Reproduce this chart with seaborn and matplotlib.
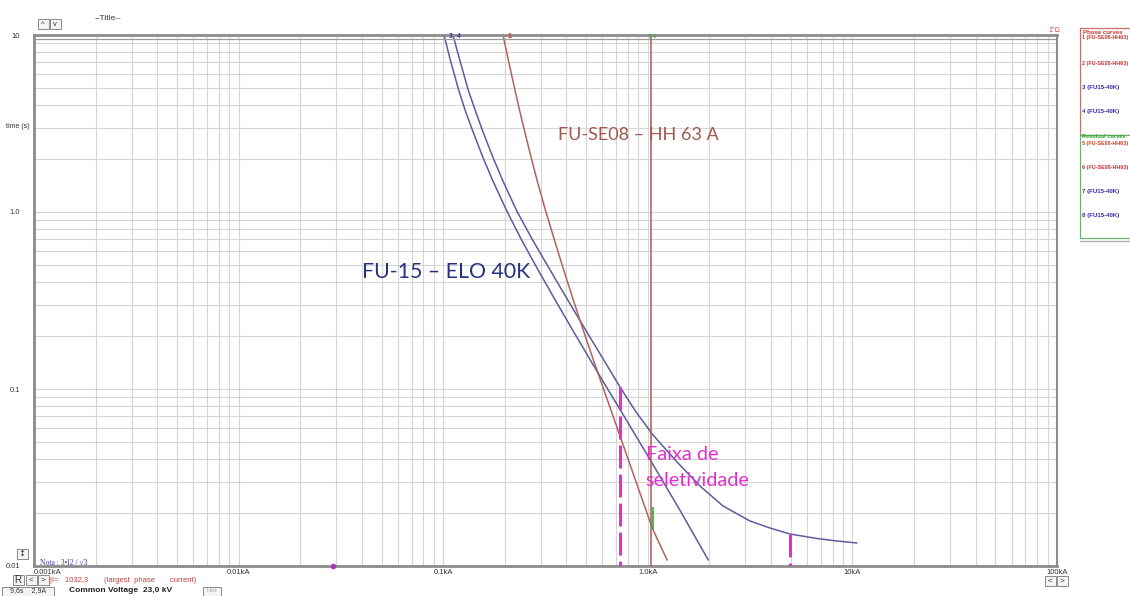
import numpy as np
import pandas as pd
import matplotlib
matplotlib.use("Agg")
import matplotlib.pyplot as plt
import matplotlib.ticker as mticker
from matplotlib.patches import Rectangle
import seaborn as sns

# ---- curve data (current in kA, time in s) ----
fu15_a_current = [0.1009, 0.1083, 0.1190, 0.1279, 0.1388, 0.1561, 0.1741, 0.2035, 0.2416,
                  0.2910, 0.3527, 0.4290, 0.5236, 0.6114, 0.7852, 1.0285, 1.4336, 1.9755]
fu15_a_time = [10.0, 7.225, 4.890, 3.771, 2.907, 2.045, 1.516, 1.026, 0.6948,
               0.4703, 0.3183, 0.2154, 0.1458, 0.1081, 0.06681, 0.03972, 0.02072, 0.01081]

fu15_b_current = [0.1116, 0.1205, 0.1325, 0.1432, 0.1552, 0.1747, 0.1949, 0.2277, 0.2735,
                  0.3331, 0.4062, 0.4967, 0.6094, 0.7312, 0.8756, 1.0603, 1.3892, 1.7995,
                  2.3311, 3.1587, 3.9560, 4.9547, 6.7145, 8.4091, 10.531]
fu15_b_time = [10.0, 7.225, 4.890, 3.771, 2.907, 2.045, 1.516, 1.026, 0.6948,
               0.4703, 0.3183, 0.2154, 0.1458, 0.1026, 0.07418, 0.05498, 0.03870, 0.02831,
               0.02183, 0.01795, 0.01639, 0.01516, 0.01430, 0.01384, 0.01349]

hh63_current = [0.1960, 0.2081, 0.2241, 0.2360, 0.2491, 0.2686, 0.2873, 0.3159, 0.3496,
                0.3881, 0.4324, 0.4834, 0.5421, 0.5985, 0.6868, 0.8132, 0.9048, 1.0068,
                1.0615, 1.1485, 1.2428]
hh63_time = [10.0, 7.225, 4.890, 3.771, 2.907, 2.045, 1.516, 1.026, 0.6948,
             0.4703, 0.3183, 0.2154, 0.1458, 0.1053, 0.06681, 0.03820, 0.02688, 0.01891,
             0.01598, 0.01314, 0.01081]

largest_phase_current = 1.0323           # kA
residual_mark_current = 1.06             # kA
residual_mark_time = [0.0160, 0.0215]    # s
selectivity_current = [0.7312, 4.9547]   # kA
selectivity_time_top = [0.1026, 0.01516] # s
note_mark_current = 0.0289               # kA

x_ticks = [0.001, 0.01, 0.1, 1.0, 10.0, 100.0]
x_tick_labels = ["0.001kA", "0.01kA", "0.1kA", "1.0kA", "10kA", "100kA"]
y_ticks = [0.01, 0.1, 1.0, 10.0]
y_tick_labels = ["0.01", "0.1", "1.0", "10"]

legend_phase = ["1 (FU-SE08-HH63)", "2 (FU-SE08-HH63)", "3 (FU15-40K)", "4 (FU15-40K)"]
legend_residual = ["5 (FU-SE08-HH63)", "6 (FU-SE08-HH63)", "7 (FU15-40K)", "8 (FU15-40K)"]

sns.set_theme(style="white")
plt.rcParams["font.family"] = ["Liberation Sans", "DejaVu Sans"]

W, H = 1130, 596
fig = plt.figure(figsize=(W / 100, H / 100), dpi=100)
ax = fig.add_axes([34 / W, 1 - 566 / H, (1057 - 34) / W, (566 - 35) / H])

BLUE = "#5c5c9e"
RED = "#b4625a"
MAG = "#e030d0"

df_a = pd.DataFrame({"I": fu15_a_current, "t": fu15_a_time})
df_b = pd.DataFrame({"I": fu15_b_current, "t": fu15_b_time})
df_r = pd.DataFrame({"I": hh63_current, "t": hh63_time})
sns.lineplot(data=df_a, x="I", y="t", ax=ax, color=BLUE, lw=1.1, sort=False, estimator=None)
sns.lineplot(data=df_b, x="I", y="t", ax=ax, color=BLUE, lw=1.1, sort=False, estimator=None)
sns.lineplot(data=df_r, x="I", y="t", ax=ax, color=RED, lw=1.1, sort=False, estimator=None)

ax.set_xscale("log")
ax.set_yscale("log")
ax.set_xlim(0.001, 100)
ax.set_ylim(0.01, 10)

# largest phase current marker
ax.vlines(largest_phase_current, 0.01, 10, color="#a85a58", lw=1.1, zorder=3)
ax.vlines(residual_mark_current, residual_mark_time[0], residual_mark_time[1], color="#40b040",
          lw=1.3, zorder=4)

# selectivity band limits
for xc, yt in zip(selectivity_current, selectivity_time_top):
    ax.plot([xc, xc], [yt, 0.01], color=MAG, lw=2.2, dashes=(7.5, 2.0), zorder=5,
            solid_capstyle="butt", dash_capstyle="butt")
ax.plot([note_mark_current], [0.01], marker="o", ms=3, color="#b030c0", clip_on=False, zorder=6)

# grid
ax.xaxis.set_minor_locator(mticker.LogLocator(base=10, subs=np.arange(2, 10)))
ax.yaxis.set_minor_locator(mticker.LogLocator(base=10, subs=np.arange(2, 10)))
ax.grid(True, which="both", color="#d6d6d6", lw=0.8)
ax.set_axisbelow(True)

ax.set_xticks(x_ticks)
ax.set_xticklabels(x_tick_labels)
ax.set_yticks(y_ticks)
ax.set_yticklabels(y_tick_labels)
ax.xaxis.set_minor_formatter(mticker.NullFormatter())
ax.yaxis.set_minor_formatter(mticker.NullFormatter())
ax.tick_params(which="both", length=0, labelsize=5.5, colors="#333333")
ax.tick_params(axis="x", pad=2)
ax.tick_params(axis="y", pad=10)
ax.get_xticklabels()[0].set_horizontalalignment("left")
ax.set_xlabel("")
ax.set_ylabel("")

for side in ["left", "right", "bottom", "top"]:
    ax.spines[side].set_color("#8c8c8c")
ax.spines["left"].set_linewidth(2.0)
ax.spines["bottom"].set_linewidth(2.0)
ax.spines["top"].set_linewidth(2.0)
ax.spines["right"].set_linewidth(1.5)
ax.axhline(9.55, color="#9a9a9a", lw=0.9, zorder=2)


def ftxt(x, y, s, **kw):
    fig.text(x / W, 1 - y / H, s, **kw)


# annotations
ann_font = ["Lato", "DejaVu Sans"]
ftxt(558, 135, "FU-SE08 – HH 63 A", fontsize=13, color="#a0584f", family=ann_font, va="center")
ftxt(362, 272, "FU-15 – ELO 40K", fontsize=15.3, color="#25307e", family=ann_font, va="center")
ftxt(646, 455, "Faixa de", fontsize=14.3, color=MAG, family=ann_font, va="center")
ftxt(645, 480, "seletividade", fontsize=14.3, color=MAG, family=ann_font, va="center")

# curve number tags at the top edge
ftxt(451, 37, "3", fontsize=5, color="#3030b0", weight="bold", ha="center", va="center")
ftxt(459, 37, "4", fontsize=5, color="#3030b0", weight="bold", ha="center", va="center")
ftxt(509, 37, "1", fontsize=5, color="#d03030", weight="bold", ha="center", va="center")
ftxt(653, 36, "5·6", fontsize=4, color="#40b040", weight="bold", ha="center", va="center")
ftxt(1054, 30, "1°Ω", fontsize=5, color="#d04040", ha="center", va="center")

# header and axis captions
ftxt(108, 19, "--Title--", fontsize=6, color="#333333", ha="center", va="center")
ftxt(18, 126, "time (s)", fontsize=5, color="#333333", ha="center", va="center")
ftxt(40, 563, "Nota : 3•I2 / √3", fontsize=5.5, color="#3a3aa0",
     family=["Liberation Serif", "DejaVu Serif"], va="center")


def button(x, y, s, w=11, h=10, **kw):
    fig.patches.append(Rectangle(((x - w / 2) / W, 1 - (y + h / 2) / H), w / W, h / H,
                                 transform=fig.transFigure, facecolor="#f4f4f4",
                                 edgecolor="#8a8a8a", lw=0.7))
    ftxt(x, y, s, ha="center", va="center", **kw)


button(43, 24, "^", fontsize=5.5, color="#333333")
button(55, 24, "v", fontsize=5.5, color="#333333")
button(22, 554, "↕", fontsize=6, color="#333333", family=["DejaVu Sans"])
button(18, 580, "R", fontsize=7, color="#333333")
button(31, 580, "<", fontsize=6, color="#333333")
button(43, 580, ">", fontsize=6, color="#333333")
button(1050, 581, "<", fontsize=6, color="#333333")
button(1062, 581, ">", fontsize=6, color="#333333")
button(28, 591, "9,6s    2,9A", w=52, h=9, fontsize=5, color="#333333")
button(212, 591, "Hist", w=18, h=9, fontsize=4.5, color="#aaaaaa")

ftxt(50, 580, "|I=   1032,3", fontsize=5.5, color="#c04040", va="center")
ftxt(104, 580, "(largest  phase       current)", fontsize=5.5, color="#c04040", va="center")
ftxt(69, 591, "Common Voltage  23,0 kV", fontsize=6, color="#222222", weight="bold", va="center")

# curve list panels
fig.patches.append(Rectangle((1080 / W, 1 - 135 / H), 60 / W, 107 / H, transform=fig.transFigure,
                             facecolor="white", edgecolor="#c87070", lw=0.9))
fig.patches.append(Rectangle((1080 / W, 1 - 238 / H), 60 / W, 103 / H, transform=fig.transFigure,
                             facecolor="white", edgecolor="#70b070", lw=0.9))
fig.add_artist(plt.Line2D([1080 / W, 1], [1 - 241 / H] * 2, color="#aaaaaa", lw=0.9,
                          transform=fig.transFigure))

ftxt(1083, 32, "Phase curves", fontsize=4.4, color="#d03030", weight="bold", va="center")
ftxt(1082, 137, "Residual curves", fontsize=4.1, color="#30a030", weight="bold", va="center")
phase_y = [38, 63, 87, 111]
resid_y = [143, 168, 192, 215]
phase_colors = ["#c83030", "#c83030", "#3030a0", "#3030a0"]
resid_colors = ["#d04020", "#c83030", "#3030a0", "#3030a0"]
for lbl, yy, c in zip(legend_phase, phase_y, phase_colors):
    ftxt(1082, yy, lbl, fontsize=3.9 if "SE08" in lbl else 4.4, color=c, weight="bold", va="center")
for lbl, yy, c in zip(legend_residual, resid_y, resid_colors):
    ftxt(1082, yy, lbl, fontsize=3.9 if "SE08" in lbl else 4.4, color=c, weight="bold", va="center")

fig.savefig("out.png", dpi=100)
